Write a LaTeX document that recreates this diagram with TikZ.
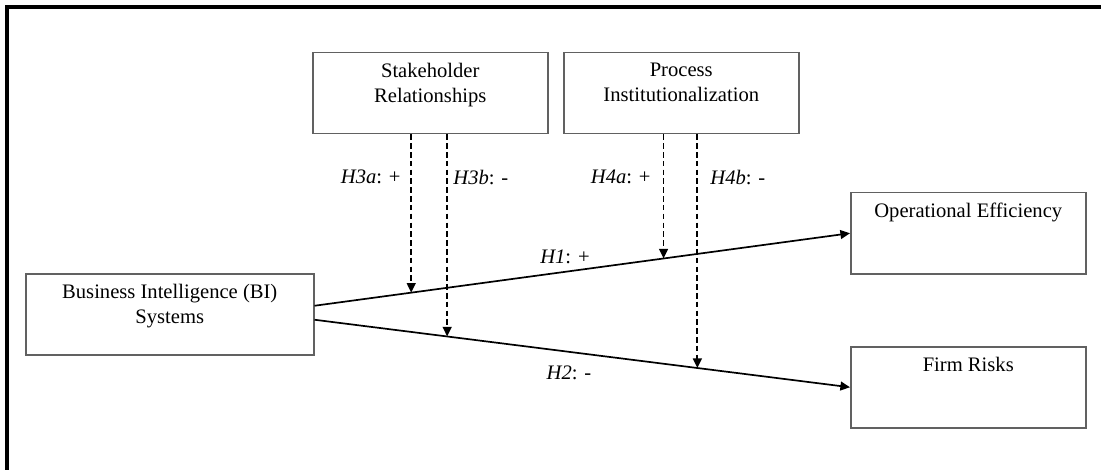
\documentclass[tikz,border=0pt]{standalone}
\usepackage{fontspec}
\setmainfont{Liberation Serif}
\usetikzlibrary{arrows.meta,calc}
\begin{document}
\begin{tikzpicture}[x=0.5pt,y=-0.5pt,
  every node/.style={font=\fontsize{10.3}{12.5}\selectfont},
  box/.style={draw=black!62, line width=0.75pt, inner sep=0pt, anchor=north west, minimum width=117.5pt, minimum height=40.5pt},
  boxtext/.style={anchor=north, inner sep=0pt, align=center, yshift=-5.3pt},
  path/.style={line width=0.85pt, -{Triangle[length=4.8pt,width=4.4pt]}},
  moderation/.style={line width=0.95pt, dash pattern=on 2.8pt off 1.6pt, -{Triangle[length=4.8pt,width=4.4pt]}},
  lbl/.style={inner sep=0pt}]
\useasboundingbox (0,0) rectangle (1101,470);
% outer frame (top and left edges)
\draw[line width=1.6pt] (1101,7) -- (7,7) -- (7,470);
% boxes
\node[box, minimum width=144pt] (bi) at (25,273) {};
\node[box] (sr) at (312,52) {};
\node[box] (pi) at (563,52) {};
\node[box] (oe) at (850,192) {};
\node[box] (fr) at (850,346) {};
\node[boxtext] at (bi.north) {Business Intelligence (BI)\\Systems};
\node[boxtext] at (sr.north) {Stakeholder\\Relationships};
\node[boxtext] at (pi.north) {Process\\Institutionalization};
\node[boxtext] at (oe.north) {Operational Efficiency};
\node[boxtext] at (fr.north) {Firm Risks};
% main paths
\draw[path] ($(bi.east)+(0,-8.5)$) -- (oe.west)
  coordinate[pos=0.1806] (m3a) coordinate[pos=0.6518] (m4a);
\draw[path] ($(bi.east)+(0,5.5)$) -- (fr.west)
  coordinate[pos=0.2477] (m3b) coordinate[pos=0.7150] (m4b);
% moderation paths
\draw[moderation] (m3a |- sr.south) -- (m3a);
\draw[moderation] (m3b |- sr.south) -- (m3b);
\draw[moderation] (m4a |- pi.south) -- (m4a);
\draw[moderation] (m4b |- pi.south) -- (m4b);
% labels
\node[lbl, anchor=east] at (401,177) {\textit{H3a}: +};
\node[lbl, anchor=west] at (453,177) {\textit{H3b}: -};
\node[lbl, anchor=east] at (651,177) {\textit{H4a}: +};
\node[lbl, anchor=west] at (710,177) {\textit{H4b}: -};
\node[lbl] at (565,257) {\textit{H1}: +};
\node[lbl] at (569,373) {\textit{H2}: -};
\end{tikzpicture}
\end{document}
